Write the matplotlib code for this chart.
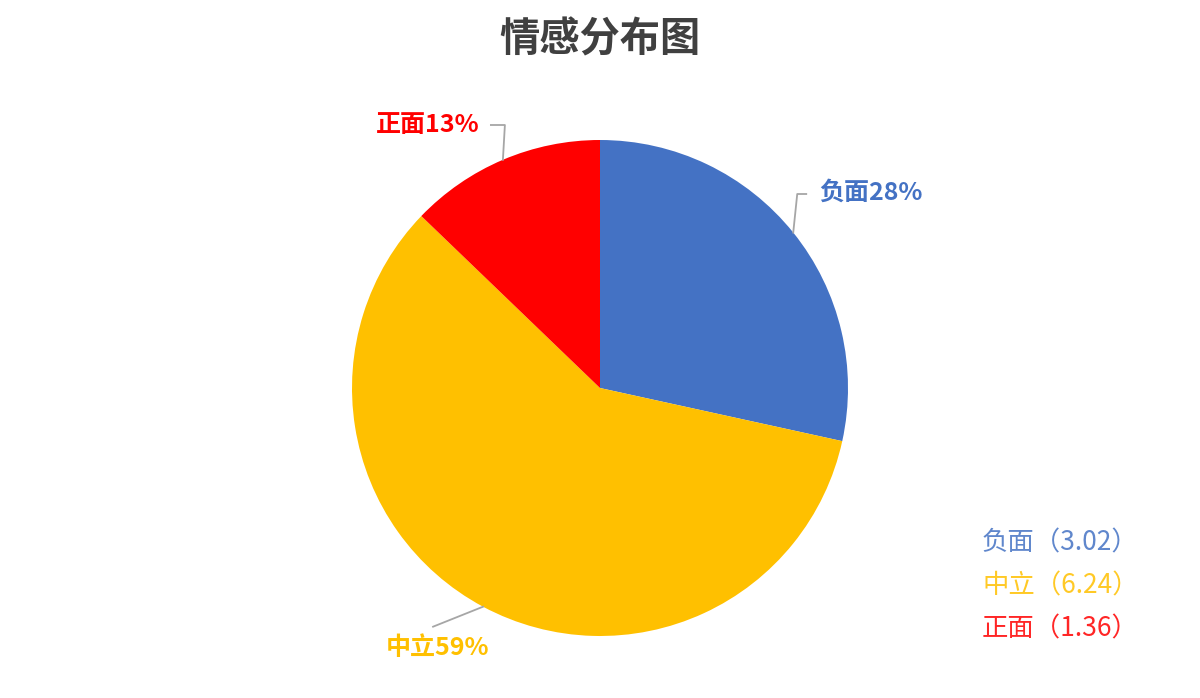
import numpy as np
import matplotlib
matplotlib.use("Agg")
import matplotlib.pyplot as plt

plt.rcParams['font.family'] = ['Noto Sans CJK SC', 'DejaVu Sans']

# data
labels = ['负面', '中立', '正面']
values = [3.02, 6.24, 1.36]
colors = ['#4472C4', '#FFC000', '#FF0000']
title = '情感分布图'

W, H = 1200, 698


def py(y):
    # pixel row (from top) -> data y
    return H - y


fig = plt.figure(figsize=(W / 100, H / 100), dpi=100)
ax = fig.add_axes([0, 0, 1, 1])

cx, cy, r = 600, py(388), 248
wedges, _ = ax.pie(values, colors=colors, startangle=90, counterclock=False,
                   center=(cx, cy), radius=r, frame=True,
                   wedgeprops=dict(linewidth=0))

ax.set_xlim(0, W)
ax.set_ylim(0, H)
ax.set_aspect('equal')
ax.set_axis_off()

total = sum(values)
pcts = [round(v / total * 100) for v in values]


def edge(w):
    ang = np.deg2rad((w.theta1 + w.theta2) / 2)
    return cx + r * np.cos(ang), cy + r * np.sin(ang)


line_kw = dict(color='#A6A6A6', lw=1.3, zorder=1)
lab_kw = dict(fontsize=18, fontweight='bold', va='center')

# 负面
ex, ey = edge(wedges[0])
ax.plot([ex, ex + 4, ex + 13], [ey, py(194), py(194)], **line_kw)
ax.text(ex + 26, py(193), f'{labels[0]}{pcts[0]}%', color=colors[0], ha='left', **lab_kw)

# 中立
ex, ey = edge(wedges[1])
ax.plot([ex, ex - 50], [ey, ey - 20], **line_kw)
ax.text(437, py(648), f'{labels[1]}{pcts[1]}%', color=colors[1], ha='center', **lab_kw)

# 正面
ex, ey = edge(wedges[2])
ax.plot([ex, ex + 2, ex - 12], [ey, py(125), py(125)], **line_kw)
ax.text(ex - 23, py(125), f'{labels[2]}{pcts[2]}%', color=colors[2], ha='right', **lab_kw)

# legend as coloured text
for i, (lab, v, c) in enumerate(zip(labels, values, colors)):
    ax.text(982, py(543 + i * 43), f'{lab}（{v:.2f}）', color=c, fontsize=19,
            ha='left', va='center', alpha=0.85)

fig.text(0.5, 1 - 40 / H, title, ha='center', va='center', fontsize=29,
         fontweight='bold', color='#404040')

fig.savefig('out.png', dpi=100)
